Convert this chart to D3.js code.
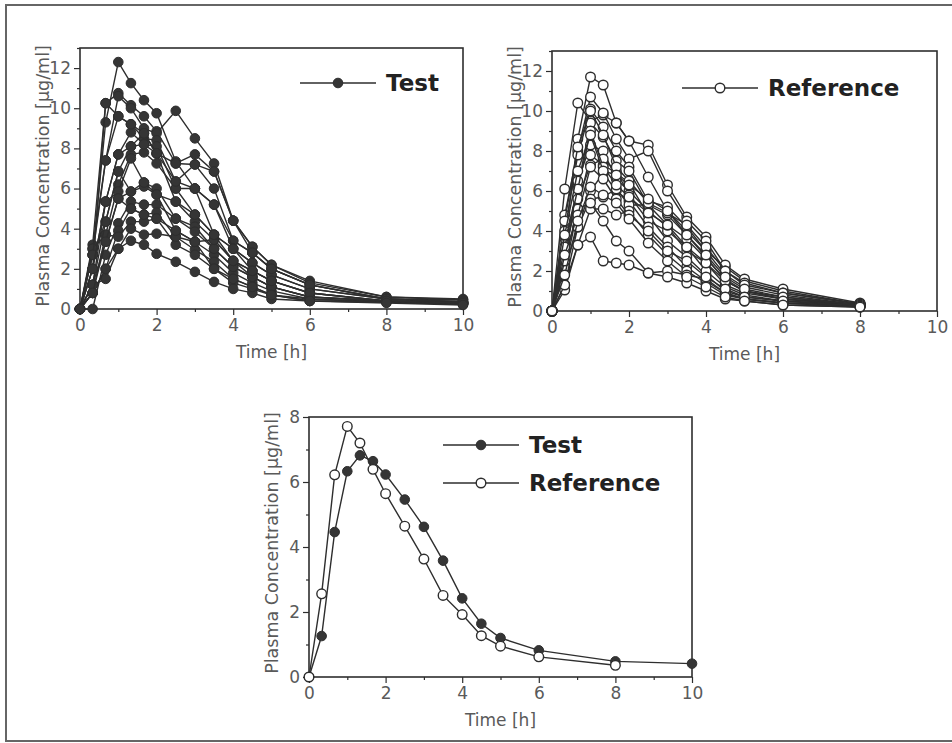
<!DOCTYPE html>
<html>
<head>
<meta charset="utf-8">
<script src="https://cdn.jsdelivr.net/npm/d3@7"></script>
<style>
  body { margin: 0; background: #fff; }
  svg { display: block; }
</style>
</head>
<body>
<svg id="chart" width="952" height="743"></svg>
<script>
// sampling times [h]
const testTimes = [0, 0.33, 0.67, 1, 1.33, 1.67, 2, 2.5, 3, 3.5, 4, 4.5, 5, 6, 8, 10];
const refTimes = [0, 0.33, 0.67, 1, 1.33, 1.67, 2, 2.5, 3, 3.5, 4, 4.5, 5, 6, 8];

// individual plasma profiles, test formulation [µg/ml]
const testSubjects = [
    [0, 2.7, 9.3, 12.3, 11.25, 10.4, 9.75, 7.35, 6.0, 5.2, 3.4, 2.8, 2.0, 1.2, 0.5, 0.45],
    [0, 3.2, 10.25, 10.75, 10.15, 9.6, 8.85, 7.25, 7.7, 6.85, 4.4, 3.1, 2.2, 1.4, 0.6, 0.5],
    [0, 3.0, 7.4, 10.6, 10.0, 9.0, 8.75, 9.87, 8.5, 7.25, 4.4, 3.1, 2.2, 1.3, 0.6, 0.45],
    [0, 2.0, 10.25, 9.6, 9.2, 8.5, 8.4, 6.35, 7.2, 6.0, 3.4, 2.8, 2.0, 1.2, 0.5, 0.35],
    [0, 1.2, 5.35, 7.7, 8.8, 8.2, 8.1, 6.0, 4.7, 3.7, 3.0, 2.3, 1.7, 1.0, 0.5, 0.35],
    [0, 2.7, 4.35, 6.85, 8.1, 8.75, 7.75, 5.35, 4.35, 3.45, 2.4, 1.9, 1.4, 0.8, 0.4, 0.3],
    [0, 0.8, 3.7, 6.2, 7.7, 7.8, 7.25, 6.0, 6.0, 5.2, 3.0, 2.3, 1.7, 1.0, 0.5, 0.35],
    [0, 2.0, 5.35, 5.85, 7.5, 6.3, 6.0, 4.5, 4.1, 3.0, 2.1, 1.6, 1.1, 0.6, 0.4, 0.25],
    [0, 1.2, 3.35, 5.5, 5.85, 6.1, 5.7, 3.9, 3.35, 2.7, 1.8, 1.3, 0.9, 0.5, 0.35, 0.25],
    [0, 0, 2.7, 4.27, 5.35, 5.2, 5.2, 4.5, 3.85, 3.0, 2.1, 1.6, 1.1, 0.6, 0.4, 0.25],
    [0, 0.8, 2.0, 3.9, 5.0, 4.7, 4.8, 3.6, 2.95, 2.35, 1.5, 1.1, 0.7, 0.5, 0.35, 0.25],
    [0, 3.0, 3.7, 3.6, 4.35, 4.35, 4.5, 3.2, 2.7, 2.0, 1.3, 1.0, 0.7, 0.4, 0.35, 0.25],
    [0, 1.2, 1.5, 3.0, 3.4, 3.2, 2.75, 2.35, 1.85, 1.35, 1.0, 0.8, 0.5, 0.4, 0.35, 0.3],
    [0, 0.8, 2.0, 3.0, 4.0, 3.7, 3.75, 3.6, 3.35, 3.45, 2.4, 1.9, 1.4, 0.8, 0.4, 0.3],
    [0, 2.7, 7.4, 9.6, 9.2, 8.75, 7.75, 7.25, 7.2, 6.85, 4.4, 2.8, 2.0, 1.2, 0.5, 0.35],
    [0, 1.2, 4.35, 6.85, 5.85, 6.3, 5.7, 5.35, 4.7, 3.7, 2.4, 1.6, 1.1, 0.6, 0.4, 0.3],
    [0, 2.0, 5.35, 7.7, 8.1, 8.2, 7.75, 6.35, 6.0, 3.7, 3.0, 1.9, 1.4, 0.8, 0.4, 0.3],
    [0, 0.8, 3.35, 5.5, 5.0, 4.7, 4.5, 3.9, 3.35, 2.0, 1.5, 1.1, 0.7, 0.4, 0.3, 0.2]
];

// individual plasma profiles, reference formulation [µg/ml]
const refSubjects = [
    [0, 3.5, 8.6, 11.7, 11.3, 9.4, 8.5, 6.7, 5.0, 4.0, 3.0, 2.2, 1.5, 1.0, 0.35],
    [0, 6.1, 10.4, 9.5, 9.8, 9.4, 8.5, 8.3, 6.3, 4.7, 3.7, 2.3, 1.6, 1.1, 0.4],
    [0, 4.8, 8.0, 10.7, 9.9, 8.6, 7.6, 8.0, 6.0, 4.5, 3.5, 2.0, 1.4, 0.9, 0.35],
    [0, 4.0, 7.8, 10.1, 9.2, 8.0, 7.2, 5.5, 5.2, 4.2, 3.0, 1.8, 1.2, 0.8, 0.3],
    [0, 3.4, 6.2, 9.4, 8.7, 7.5, 7.0, 5.3, 4.8, 3.8, 2.7, 1.5, 1.0, 0.7, 0.3],
    [0, 2.4, 6.5, 8.3, 8.0, 6.6, 6.0, 5.0, 4.2, 3.0, 2.4, 1.3, 0.9, 0.6, 0.3],
    [0, 2.0, 5.1, 7.8, 7.3, 6.9, 6.4, 4.8, 3.5, 2.7, 1.8, 1.0, 0.7, 0.5, 0.25],
    [0, 3.0, 5.6, 7.3, 7.6, 7.0, 5.8, 4.5, 4.0, 3.2, 2.0, 1.2, 0.8, 0.5, 0.3],
    [0, 2.2, 4.2, 6.0, 6.9, 6.0, 5.5, 4.2, 3.2, 2.2, 1.5, 0.9, 0.6, 0.4, 0.25],
    [0, 1.3, 4.2, 5.6, 5.7, 6.1, 5.3, 5.3, 4.3, 3.6, 2.6, 1.6, 1.0, 0.6, 0.3],
    [0, 1.05, 3.3, 5.1, 5.1, 4.8, 5.0, 3.8, 2.8, 2.0, 1.4, 0.8, 0.6, 0.4, 0.25],
    [0, 1.3, 3.3, 3.7, 2.5, 2.4, 2.3, 1.9, 2.0, 1.8, 1.6, 0.9, 0.6, 0.4, 0.2],
    [0, 2.5, 5.1, 5.4, 4.5, 3.5, 3.0, 1.9, 1.7, 1.4, 1.0, 0.6, 0.5, 0.3, 0.2],
    [0, 3.2, 6.1, 9.0, 7.2, 6.3, 5.7, 4.9, 4.3, 3.2, 2.4, 1.5, 1.0, 0.6, 0.3],
    [0, 4.5, 8.2, 10.0, 8.8, 7.2, 6.5, 5.4, 4.9, 4.3, 3.2, 2.0, 1.3, 0.9, 0.35],
    [0, 3.8, 7.0, 8.8, 7.0, 6.8, 6.3, 5.6, 5.0, 3.8, 2.8, 1.7, 1.1, 0.7, 0.3],
    [0, 2.8, 4.8, 7.2, 6.6, 5.6, 4.8, 4.0, 3.0, 2.5, 1.7, 1.1, 0.7, 0.5, 0.25],
    [0, 1.8, 4.5, 6.2, 5.8, 5.4, 4.6, 3.4, 2.5, 1.7, 1.2, 0.7, 0.5, 0.3, 0.2]
];

// mean profiles
const testMean = [0, 1.26, 4.46, 6.33, 6.82, 6.64, 6.23, 5.46, 4.62, 3.58, 2.42, 1.64, 1.2, 0.82, 0.48, 0.41];
const refMean = [0, 2.56, 6.22, 7.71, 7.2, 6.39, 5.64, 4.64, 3.63, 2.51, 1.92, 1.27, 0.95, 0.62, 0.36];

// tick values
const xMajor = [0, 2, 4, 6, 8, 10];
const xMinor = [1, 3, 5, 7, 9];
const yMajorTop = [0, 2, 4, 6, 8, 10, 12];
const yMinorTop = [1, 3, 5, 7, 9, 11, 13];
const yMajorBottom = [0, 2, 4, 6, 8];
const yMinorBottom = [1, 3, 5, 7];

const FONT = '"DejaVu Sans", sans-serif';
const INK = '#2e2e2e';
const LABEL = '#5a5a5a';

const svg = d3.select('#chart');

// scanned page frame
svg.append('rect')
    .attr('x', 6).attr('y', 5)
    .attr('width', 980).attr('height', 736)
    .attr('fill', 'none')
    .attr('stroke', '#666')
    .attr('stroke-width', 2);

const drawMarker = (g, cx, cy, filled) => {
    g.append('circle')
        .attr('cx', cx).attr('cy', cy)
        .attr('r', filled ? 4.8 : 4.8)
        .attr('fill', filled ? '#353535' : '#fff')
        .attr('stroke', INK)
        .attr('stroke-width', filled ? 1 : 1.4);
};

const drawPanel = (p) => {
    const x = d3.scaleLinear().domain([0, 10]).range([p.left, p.right]);
    const y = d3.scaleLinear().domain([0, p.yMax]).range([p.bottom, p.top]);
    const g = svg.append('g');

    // axes, major + minor ticks pointing outward
    g.append('g').attr('transform', `translate(0,${p.bottom})`)
        .call(d3.axisBottom(x).tickValues(xMinor).tickSize(3).tickFormat(''));
    g.append('g').attr('transform', `translate(0,${p.bottom})`)
        .call(d3.axisBottom(x).tickValues(xMajor).tickSize(6).tickPadding(4).tickFormat(d3.format('d')));
    g.append('g').attr('transform', `translate(${p.left},0)`)
        .call(d3.axisLeft(y).tickValues(p.yMinor).tickSize(3).tickFormat(''));
    g.append('g').attr('transform', `translate(${p.left},0)`)
        .call(d3.axisLeft(y).tickValues(p.yMajor).tickSize(6).tickPadding(3).tickFormat(d3.format('d')));

    g.selectAll('.domain').remove();
    g.selectAll('.tick line').attr('stroke', INK).attr('stroke-width', 1.2);
    g.selectAll('.tick text')
        .attr('fill', LABEL)
        .style('font-family', FONT)
        .style('font-size', '17px');

    g.append('rect')
        .attr('x', p.left).attr('y', p.top)
        .attr('width', p.right - p.left).attr('height', p.bottom - p.top)
        .attr('fill', 'none')
        .attr('stroke', INK)
        .attr('stroke-width', 1.6);

    // axis titles
    g.append('text')
        .attr('x', (p.left + p.right) / 2)
        .attr('y', p.bottom + 49)
        .attr('text-anchor', 'middle')
        .attr('fill', LABEL)
        .style('font-family', FONT)
        .style('font-size', '17px')
        .text('Time [h]');

    g.append('text')
        .attr('transform', `translate(${p.left - 31},${p.titleY}) rotate(-90)`)
        .attr('text-anchor', 'middle')
        .attr('fill', LABEL)
        .style('font-family', FONT)
        .style('font-size', '17.5px')
        .text('Plasma Concentration [µg/ml]');

    // profiles
    const line = (times) => d3.line()
        .x((d, i) => x(times[i]))
        .y(d => y(d));

    p.series.forEach(s => {
        s.rows.forEach(row => {
            g.append('path')
                .attr('d', line(s.times)(row))
                .attr('fill', 'none')
                .attr('stroke', INK)
                .attr('stroke-width', 1.4);
            row.forEach((v, i) => drawMarker(g, x(s.times[i]), y(v), s.filled));
        });
    });

    // legend
    p.legend.forEach((item, k) => {
        const ly = p.legendY + k * 38;
        g.append('line')
            .attr('x1', p.legendX).attr('x2', p.legendX + 76)
            .attr('y1', ly).attr('y2', ly)
            .attr('stroke', INK)
            .attr('stroke-width', 1.6);
        drawMarker(g, p.legendX + 38, ly, item.filled);
        g.append('text')
            .attr('x', p.legendX + 86)
            .attr('y', ly + 8)
            .attr('fill', '#222')
            .style('font-family', FONT)
            .style('font-weight', 'bold')
            .style('font-size', '23px')
            .text(item.label);
    });
};

drawPanel({
    left: 80, right: 463, top: 48, bottom: 309,
    yMax: 13, yMajor: yMajorTop, yMinor: yMinorTop, titleY: 176,
    series: [{ times: testTimes, rows: testSubjects, filled: true }],
    legendX: 300, legendY: 83,
    legend: [{ label: 'Test', filled: true }]
});

drawPanel({
    left: 552, right: 937, top: 51, bottom: 311,
    yMax: 13, yMajor: yMajorTop, yMinor: yMinorTop, titleY: 177,
    series: [{ times: refTimes, rows: refSubjects, filled: false }],
    legendX: 682, legendY: 88,
    legend: [{ label: 'Reference', filled: false }]
});

drawPanel({
    left: 309, right: 692, top: 417, bottom: 677,
    yMax: 8, yMajor: yMajorBottom, yMinor: yMinorBottom, titleY: 543,
    series: [
        { times: testTimes, rows: [testMean], filled: true },
        { times: refTimes, rows: [refMean], filled: false }
    ],
    legendX: 443, legendY: 445,
    legend: [{ label: 'Test', filled: true }, { label: 'Reference', filled: false }]
});
</script>
</body>
</html>
